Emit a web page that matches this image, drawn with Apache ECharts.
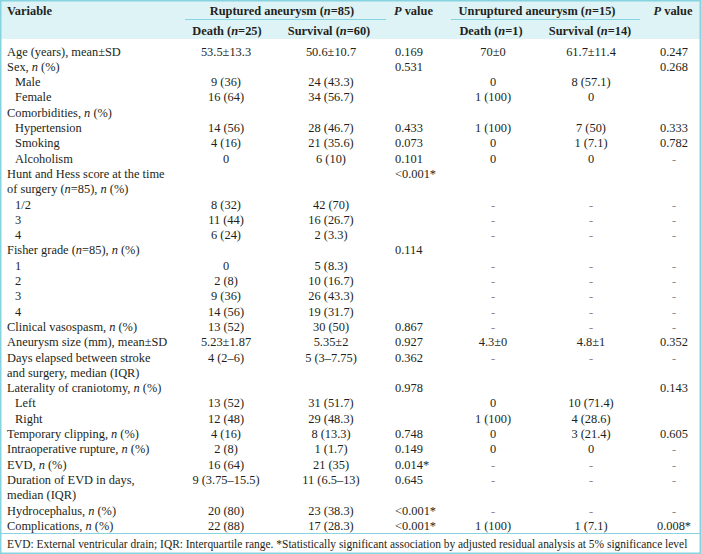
<!DOCTYPE html>
<html><head><meta charset="utf-8">
<script src="https://cdn.jsdelivr.net/npm/echarts@6/dist/echarts.min.js"></script>
<style>html,body{margin:0;padding:0;background:#fff}#c{width:701px;height:554px}</style>
</head><body><div id="c"></div>
<script>
// ---- DATA ----
var groupHeaders = ["Ruptured aneurysm (n=85)", "Unruptured aneurysm (n=15)"];
var subHeaders = ["Death (n=25)", "Survival (n=60)", "Death (n=1)", "Survival (n=14)"];
var variableHeader = "Variable";
var pHeader = "P value";
var variables = [
  "Age (years), mean±SD", "Sex, n (%)", "Male", "Female", "Comorbidities, n (%)",
  "Hypertension", "Smoking", "Alcoholism", "Hunt and Hess score at the time",
  "of surgery (n=85), n (%)", "1/2", "3", "4", "Fisher grade (n=85), n (%)",
  "1", "2", "3", "4", "Clinical vasospasm, n (%)", "Aneurysm size (mm), mean±SD",
  "Days elapsed between stroke", "and surgery, median (IQR)", "Laterality of craniotomy, n (%)",
  "Left", "Right", "Temporary clipping, n (%)", "Intraoperative rupture, n (%)", "EVD, n (%)",
  "Duration of EVD in days,", "median (IQR)", "Hydrocephalus, n (%)", "Complications, n (%)"
];
var subRows = [2, 3, 5, 6, 7, 10, 11, 12, 14, 15, 16, 17, 23, 24];
var rupturedDeath = ["53.5±13.3", "", "9 (36)", "16 (64)", "", "14 (56)", "4 (16)", "0", "", "",
  "8 (32)", "11 (44)", "6 (24)", "", "0", "2 (8)", "9 (36)", "14 (56)", "13 (52)", "5.23±1.87",
  "4 (2–6)", "", "", "13 (52)", "12 (48)", "4 (16)", "2 (8)", "16 (64)", "9 (3.75–15.5)", "",
  "20 (80)", "22 (88)"];
var rupturedSurvival = ["50.6±10.7", "", "24 (43.3)", "34 (56.7)", "", "28 (46.7)", "21 (35.6)", "6 (10)", "", "",
  "42 (70)", "16 (26.7)", "2 (3.3)", "", "5 (8.3)", "10 (16.7)", "26 (43.3)", "19 (31.7)", "30 (50)", "5.35±2",
  "5 (3–7.75)", "", "", "31 (51.7)", "29 (48.3)", "8 (13.3)", "1 (1.7)", "21 (35)", "11 (6.5–13)", "",
  "23 (38.3)", "17 (28.3)"];
var rupturedP = ["0.169", "0.531", "", "", "", "0.433", "0.073", "0.101", "<0.001*", "",
  "", "", "", "0.114", "", "", "", "", "0.867", "0.927",
  "0.362", "", "0.978", "", "", "0.748", "0.149", "0.014*", "0.645", "",
  "<0.001*", "<0.001*"];
var unrupturedDeath = ["70±0", "", "0", "1 (100)", "", "1 (100)", "0", "0", "", "",
  "-", "-", "-", "", "-", "-", "-", "-", "-", "4.3±0",
  "-", "", "", "0", "1 (100)", "0", "0", "-", "-", "",
  "-", "1 (100)"];
var unrupturedSurvival = ["61.7±11.4", "", "8 (57.1)", "0", "", "7 (50)", "1 (7.1)", "0", "", "",
  "-", "-", "-", "", "-", "-", "-", "-", "-", "4.8±1",
  "-", "", "", "10 (71.4)", "4 (28.6)", "3 (21.4)", "0", "-", "-", "",
  "-", "1 (7.1)"];
var unrupturedP = ["0.247", "0.268", "", "", "", "0.333", "0.782", "-", "", "",
  "-", "-", "-", "", "-", "-", "-", "-", "-", "0.352",
  "-", "", "0.143", "", "", "0.605", "-", "-", "-", "",
  "-", "0.008*"];
var footnote = "EVD: External ventricular drain; IQR: Interquartile range. *Statistically significant association by adjusted residual analysis at 5% significance level";

// ---- LAYOUT / STYLE ----
var W = 701, H = 554;
var FONT = '"Liberation Serif", "Times New Roman", serif';
var FS = 12.4;
var TXT = '#231f20';
var HEAD_BG = '#def3f6';
var LINE = '#86d4e0';
var colX = [7, 226, 331, 395, 493, 591, 674];
var colAlign = ['left', 'center', 'center', 'left', 'center', 'center', 'center'];
var columns = [variables, rupturedDeath, rupturedSurvival, rupturedP, unrupturedDeath, unrupturedSurvival, unrupturedP];

function richify(s, bold) {
  return s.replace(/\bn\b/g, bold ? '{bi|n}' : '{i|n}').replace(/^P /, bold ? '{bi|P} ' : '{i|P} ');
}
var rich = {
  i: { fontStyle: 'italic', fontFamily: FONT, fontSize: FS, fill: TXT },
  bi: { fontStyle: 'italic', fontWeight: 'bold', fontFamily: FONT, fontSize: FS, fill: TXT }
};

var cells = [];
columns.forEach(function (arr, c) {
  arr.forEach(function (t, r) {
    if (t !== '' && t != null) cells.push({ col: c, row: r, text: t });
  });
});
var rowCats = variables.map(function (_, i) { return String(i); });

var chart = echarts.init(document.getElementById('c'), null, { renderer: 'svg', width: W, height: H });

function hText(x, y, text, align, bold, size) {
  return {
    type: 'text', x: x, y: y, silent: true,
    style: {
      text: richify(text, bold), x: 0, y: 0, align: align, verticalAlign: 'middle',
      fontFamily: FONT, fontSize: size || FS, fontWeight: bold ? 'bold' : 'normal', fill: TXT,
      rich: rich
    }
  };
}

var graphics = [
  { type: 'rect', shape: { x: 0, y: 0, width: W, height: 39 }, style: { fill: HEAD_BG }, silent: true, z: -10 },
  { type: 'line', shape: { x1: 185, y1: 19.5, x2: 386, y2: 19.5 }, style: { stroke: LINE, lineWidth: 1 }, silent: true },
  { type: 'line', shape: { x1: 451, y1: 19.5, x2: 640, y2: 19.5 }, style: { stroke: LINE, lineWidth: 1 }, silent: true },
  { type: 'line', shape: { x1: 0, y1: 533.5, x2: W, y2: 533.5 }, style: { stroke: LINE, lineWidth: 1.2 }, silent: true },
  { type: 'rect', shape: { x: 0.75, y: 0.75, width: W - 1.5, height: H - 1.5 }, style: { fill: null, stroke: LINE, lineWidth: 1.5 }, silent: true },
  hText(7, 11, variableHeader, 'left', true),
  hText(282, 11, groupHeaders[0], 'center', true),
  hText(394, 11, pHeader, 'left', true),
  hText(537, 11, groupHeaders[1], 'center', true),
  hText(673, 11, pHeader, 'center', true),
  hText(227, 31, subHeaders[0], 'center', true),
  hText(329, 31, subHeaders[1], 'center', true),
  hText(491, 31, subHeaders[2], 'center', true),
  hText(590, 31, subHeaders[3], 'center', true),
  hText(7, 543.5, footnote, 'left', false, 11.45)
];

chart.setOption({
  animation: false,
  backgroundColor: '#fff',
  grid: { left: 0, right: 0, top: 43.85, bottom: 20.55, containLabel: false },
  xAxis: { type: 'value', min: 0, max: W, show: false },
  yAxis: { type: 'category', data: rowCats, inverse: true, show: false, boundaryGap: true },
  graphic: graphics,
  series: [{
    type: 'custom',
    coordinateSystem: 'cartesian2d',
    data: cells.map(function (c) { return [c.col, c.row]; }),
    encode: { x: 0, y: 1 },
    renderItem: function (params, api) {
      var cell = cells[params.dataIndex];
      var y = api.coord([0, api.value(1)])[1];
      var x = colX[cell.col];
      if (cell.col === 0 && subRows.indexOf(cell.row) >= 0) x = 15;
      var isDash = cell.text === '-';
      return {
        type: 'text', x: x, y: y,
        style: {
          text: richify(cell.text, false), x: 0, y: 0,
          align: colAlign[cell.col], verticalAlign: 'middle',
          fontFamily: FONT, fontSize: FS, fill: isDash ? '#8a8a8a' : TXT,
          rich: rich
        }
      };
    }
  }]
});
</script></body></html>
